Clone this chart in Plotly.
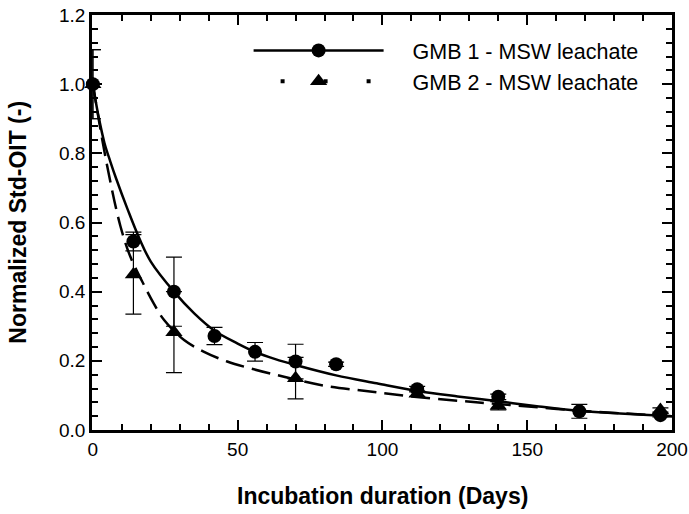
import plotly.graph_objects as go

# measured points
days1 = [0, 14, 28, 42, 56, 70, 84, 112, 140, 168, 196]
oit1 = [1.0, 0.545, 0.40, 0.272, 0.226, 0.198, 0.19, 0.118, 0.096, 0.054, 0.043]
err1 = [0.1, 0.027, 0.1, 0.025, 0.027, 0.05, 0.006, 0.008, 0.008, 0.02, 0.005]

days2 = [0, 14, 28, 70, 112, 140, 196]
oit2 = [1.0, 0.45, 0.283, 0.15, 0.105, 0.07, 0.058]
err2 = [0.1, 0.115, 0.117, 0.06, 0.008, 0.012, 0.006]

# fitted curves
fit_days1 = [0, 1, 2, 4, 6, 8, 12, 16, 20, 28, 35, 42, 50, 56, 63, 70, 84, 98, 112, 126, 140, 154, 168, 182, 200]
fit_oit1 = [1.0, 0.95, 0.905, 0.83, 0.777, 0.728, 0.638, 0.555, 0.487, 0.40, 0.337, 0.287, 0.25, 0.226,
            0.205, 0.188, 0.158, 0.135, 0.113, 0.097, 0.083, 0.068, 0.055, 0.048, 0.04]

fit_days2 = [0, 2.6, 5.5, 9.5, 13, 17, 21, 24.6, 31.5, 38.4, 46.4, 54.5, 66, 80, 95, 110, 127, 140, 168, 200]
fit_oit2 = [1.0, 0.87, 0.74, 0.59, 0.50, 0.43, 0.366, 0.318, 0.26, 0.226, 0.198, 0.178, 0.154,
            0.128, 0.112, 0.097, 0.084, 0.075, 0.056, 0.04]

names = ["GMB 1 - MSW leachate", "GMB 2 - MSW leachate"]
FONT = "Liberation Sans, Arial, sans-serif"

fig = go.Figure()
fig.add_trace(go.Scatter(x=fit_days1, y=fit_oit1, mode="lines", line=dict(color="black", width=2.5, shape="spline"),
                         showlegend=False))
fig.add_trace(go.Scatter(x=fit_days2, y=fit_oit2, mode="lines",
                         line=dict(color="black", width=2.5, shape="spline", dash="19px,8px"),
                         showlegend=False))
fig.add_trace(go.Scatter(x=days1, y=oit1, mode="markers", marker=dict(symbol="circle", size=14, color="black"),
                         error_y=dict(type="data", array=err1, color="black", thickness=1.2, width=8),
                         cliponaxis=False, showlegend=False))
fig.add_trace(go.Scatter(x=days2, y=oit2, mode="markers", marker=dict(symbol="triangle-up", size=15, color="black"),
                         error_y=dict(type="data", array=err2, color="black", thickness=1.2, width=8),
                         cliponaxis=False, showlegend=False))

# legend entries
pad = "\u00a0" * 4
fig.add_trace(go.Scatter(x=[None], y=[None], mode="lines+markers", name=pad + names[0],
                         line=dict(color="black", width=2.5),
                         marker=dict(symbol="circle", size=14, color="black")))
fig.add_trace(go.Scatter(x=[None], y=[None], mode="lines+markers", name=pad + names[1],
                         line=dict(color="black", width=4, dash="0px,27px,4px,39px,4px,39px,4px,120px"),
                         marker=dict(symbol="triangle-up", size=15, color="black")))

axis_common = dict(showline=True, linecolor="black", linewidth=2.5, mirror="allticks",
                   ticks="inside", tickcolor="black", tickwidth=2, ticklen=10,
                   showgrid=False, zeroline=False, automargin=False,
                   tickfont=dict(family=FONT, size=19, color="black"))

fig.update_xaxes(range=[-0.3, 200], tickvals=[0, 50, 100, 150, 200],
                 minor=dict(tickvals=list(range(10, 200, 10)), ticks="inside", ticklen=6, tickwidth=2,
                            tickcolor="black"),
                 **axis_common)
fig.update_yaxes(range=[0, 1.2], dtick=0.2, tick0=0, tickformat=".1f",
                 minor=dict(dtick=0.04, ticks="inside", ticklen=6, tickwidth=2, tickcolor="black"),
                 **axis_common)

fig.add_annotation(text="<b>Incubation duration (Days)</b>", xref="paper", yref="paper", x=0.5, y=-0.159,
                   xanchor="center", yanchor="middle", showarrow=False,
                   font=dict(family=FONT, size=23, color="black"))
fig.add_annotation(text="<b>Normalized Std-OIT (-)</b>", xref="paper", yref="paper", x=-0.129, y=0.5,
                   xanchor="center", yanchor="middle", showarrow=False, textangle=-90,
                   font=dict(family=FONT, size=23, color="black"))

fig.update_layout(
    width=689, height=514,
    margin=dict(l=92, r=17, t=15, b=84),
    plot_bgcolor="white", paper_bgcolor="white",
    legend=dict(x=0.27, y=0.964, xanchor="left", yanchor="top", bgcolor="rgba(0,0,0,0)",
                itemwidth=130, tracegroupgap=0,
                font=dict(family=FONT, size=21.5, color="black")),
)

fig.write_html("out.html", config={"displayModeBar": False},
               post_script="document.body.style.margin='0px';")
